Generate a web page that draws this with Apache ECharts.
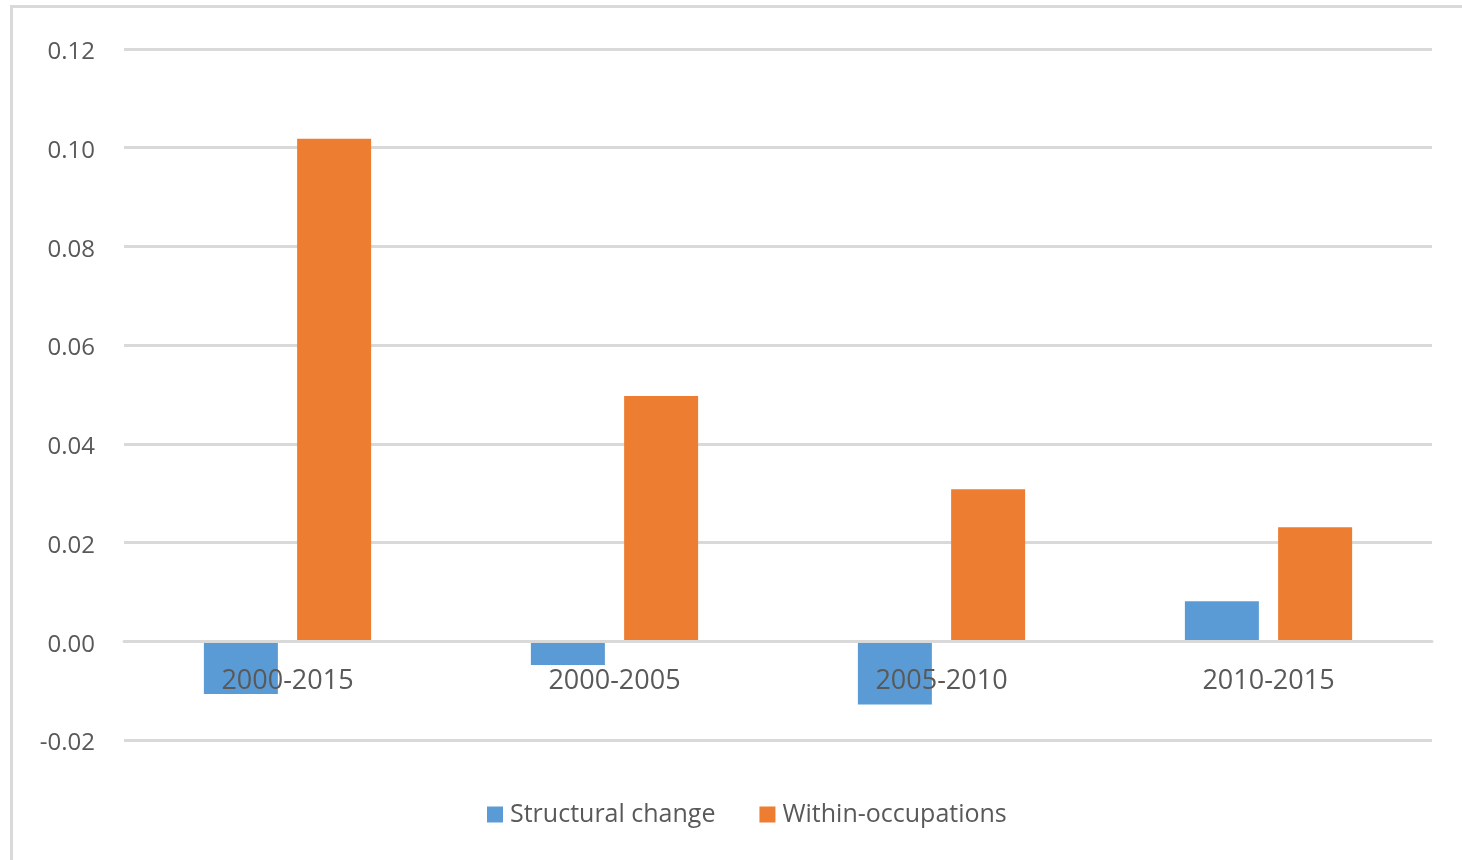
<!DOCTYPE html>
<html>
<head>
<meta charset="utf-8">
<script src="https://cdn.jsdelivr.net/npm/echarts@6/dist/echarts.min.js"></script>
<style>
html,body{margin:0;padding:0;background:#fff;}
#chart{width:1462px;height:860px;}
</style>
</head>
<body>
<div id="chart"></div>
<script>
const categories = ['2000-2015', '2000-2005', '2005-2010', '2010-2015'];
const structuralChange = [-0.0107, -0.0048, -0.0128, 0.0081];
const withinOccupations = [0.1018, 0.0497, 0.0308, 0.0231];
const seriesNames = ['Structural change', 'Within-occupations'];
const yTicks = { min: -0.02, max: 0.12, interval: 0.02 };

const chart = echarts.init(document.getElementById('chart'));
const font = 'Open Sans';
chart.setOption({
  animation: false,
  backgroundColor: '#fff',
  graphic: [{
    type: 'rect',
    shape: { x: 11.5, y: 6.5, width: 1600, height: 1000 },
    style: { fill: 'none', stroke: '#d9d9d9', lineWidth: 3 },
    silent: true
  }],
  grid: { left: 124, right: 30, top: 49, bottom: 120, containLabel: false },
  legend: {
    left: 482,
    top: 797,
    itemWidth: 16,
    itemHeight: 16,
    itemGap: 44,
    icon: 'rect',
    textStyle: { fontFamily: font, fontSize: 25, color: '#595959', padding: [0, 0, 0, 2] },
    data: seriesNames
  },
  xAxis: {
    type: 'category',
    data: categories,
    z: 5,
    offset: -98.7,
    axisLine: { onZero: false, lineStyle: { color: '#d9d9d9', width: 3 } },
    axisTick: { show: false },
    axisLabel: { fontFamily: font, fontSize: 27, color: '#595959', margin: 27 }
  },
  yAxis: {
    type: 'value',
    min: yTicks.min,
    max: yTicks.max,
    interval: yTicks.interval,
    axisLine: { show: false },
    axisTick: { show: false },
    splitLine: { lineStyle: { color: '#d9d9d9', width: 3 } },
    axisLabel: {
      fontFamily: font, fontSize: 24, color: '#595959', margin: 29,
      verticalAlign: 'top', lineHeight: 7,
      formatter: v => v.toFixed(2)
    }
  },
  series: [
    {
      name: seriesNames[0], type: 'bar', data: structuralChange,
      barWidth: 74, barGap: '26%',
      itemStyle: { color: '#5b9bd5' }
    },
    {
      name: seriesNames[1], type: 'bar', data: withinOccupations,
      barWidth: 74,
      itemStyle: { color: '#ed7d31' }
    }
  ]
});
</script>
</body>
</html>
